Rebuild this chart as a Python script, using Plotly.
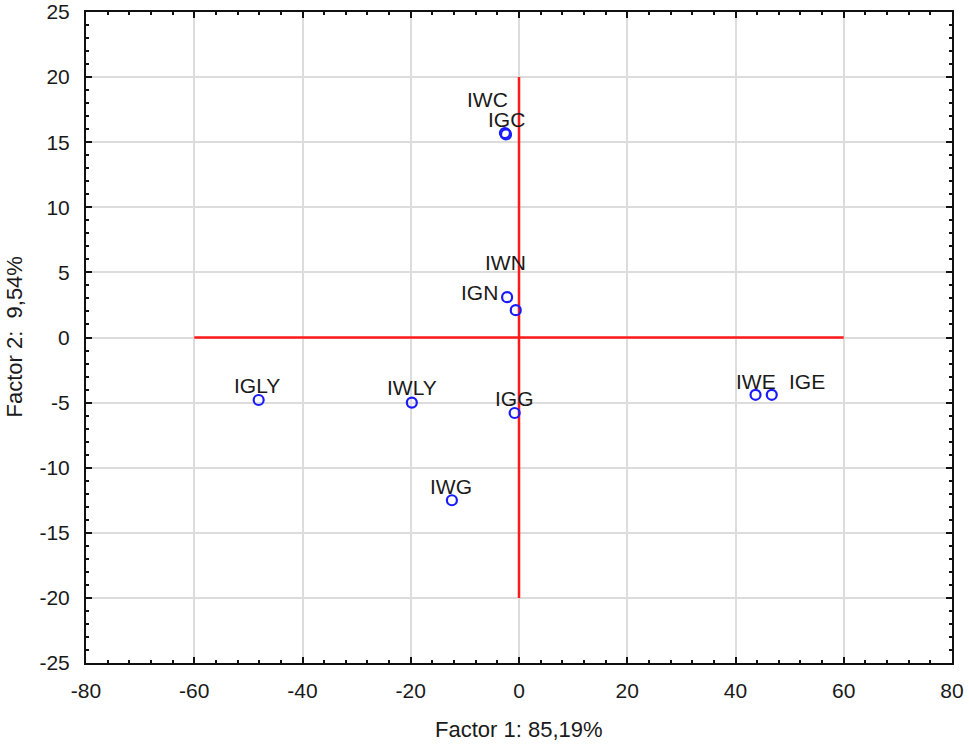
import plotly.graph_objects as go

# PCA score plot: Factor 1 vs Factor 2
labels = ["IWC", "IGC", "IWN", "IGN", "IGLY", "IWLY", "IGG", "IWG", "IWE", "IGE"]
factor1 = [-2.6, -2.4, -0.6, -2.2, -48.1, -19.8, -0.8, -12.4, 43.7, 46.7]
factor2 = [15.7, 15.6, 2.1, 3.1, -4.8, -5.0, -5.8, -12.5, -4.4, -4.4]

# red reference cross
cross_h_x = [-60, 60]
cross_v_y = [-20, 20]

x_ticks = [-80, -60, -40, -20, 0, 20, 40, 60, 80]
x_ticktext = ["-80", "-60", "-40", "-20", "0", "20", "40", "60", "80"]
y_ticks = [-25, -20, -15, -10, -5, 0, 5, 10, 15, 20, 25]
y_ticktext = ["-25", "-20", "-15", "-10", "-5", "0", "5", "10", "15", "20", "25"]

# label offsets in pixels (dx, dy up)
label_shift = {
    "IWC": (-17, 34), "IGC": (0, 15), "IWN": (-10, 48), "IGN": (-28, 5),
    "IGLY": (-2, 15), "IWLY": (0, 15), "IGG": (0, 15), "IWG": (-1, 14),
    "IWE": (0, 13), "IGE": (35, 13),
}

FONT = "Liberation Sans, Arial, sans-serif"

fig = go.Figure()

fig.add_trace(go.Scatter(x=cross_h_x, y=[0, 0], mode="lines",
                         line=dict(color="#ff1a1a", width=2.5), hoverinfo="skip"))
fig.add_trace(go.Scatter(x=[0, 0], y=cross_v_y, mode="lines",
                         line=dict(color="#ff1a1a", width=2.5), hoverinfo="skip"))

fig.add_trace(go.Scatter(
    x=factor1, y=factor2, mode="markers", text=labels,
    marker=dict(symbol="circle-open", size=10, color="#1a1aff", line=dict(width=2.2)),
))

for lab, fx, fy in zip(labels, factor1, factor2):
    dx, dy = label_shift[lab]
    fig.add_annotation(x=fx, y=fy, text=lab, showarrow=False,
                       xshift=dx, yshift=dy,
                       font=dict(family=FONT, size=21, color="#1a1a1a"))

# axis titles
fig.add_annotation(x=0.5, y=0, xref="paper", yref="paper", yanchor="top",
                   yshift=-52, text="Factor 1: 85,19%", showarrow=False,
                   font=dict(family=FONT, size=22, color="#1a1a1a"))
fig.add_annotation(x=0, y=0.5, xref="paper", yref="paper", xanchor="center",
                   xshift=-72, textangle=-90, text="Factor 2:  9,54%", showarrow=False,
                   font=dict(family=FONT, size=22, color="#1a1a1a"))

axis_common = dict(
    showline=True, linecolor="#111", linewidth=2, mirror="ticks",
    ticks="inside", ticklen=6, tickwidth=2, tickcolor="#111",
    showgrid=True, gridcolor="#dcdcdc", gridwidth=2, zeroline=False,
    tickfont=dict(family=FONT, size=21, color="#1a1a1a"),
    automargin=False, ticklabeloverflow="allow",
)

fig.update_xaxes(range=[-80, 80], tickvals=x_ticks, ticktext=x_ticktext,
                 ticklabelstandoff=8,
                 minor=dict(dtick=4, ticks="inside", ticklen=3, tickwidth=2,
                            tickcolor="#111", showgrid=False),
                 **axis_common)
fig.update_yaxes(range=[-25, 25], tickvals=y_ticks, ticktext=y_ticktext,
                 ticklabelstandoff=10,
                 minor=dict(dtick=1, ticks="inside", ticklen=3, tickwidth=2,
                            tickcolor="#111", showgrid=False),
                 **axis_common)

fig.update_layout(
    width=969, height=744,
    margin=dict(l=86, r=17, t=12, b=81),
    plot_bgcolor="white", paper_bgcolor="white",
    showlegend=False,
)

# drop the default 8px body margin so the figure fills the window exactly
fig.write_html("out.html", config={"displayModeBar": False},
               post_script="document.body.style.margin='0px';")
